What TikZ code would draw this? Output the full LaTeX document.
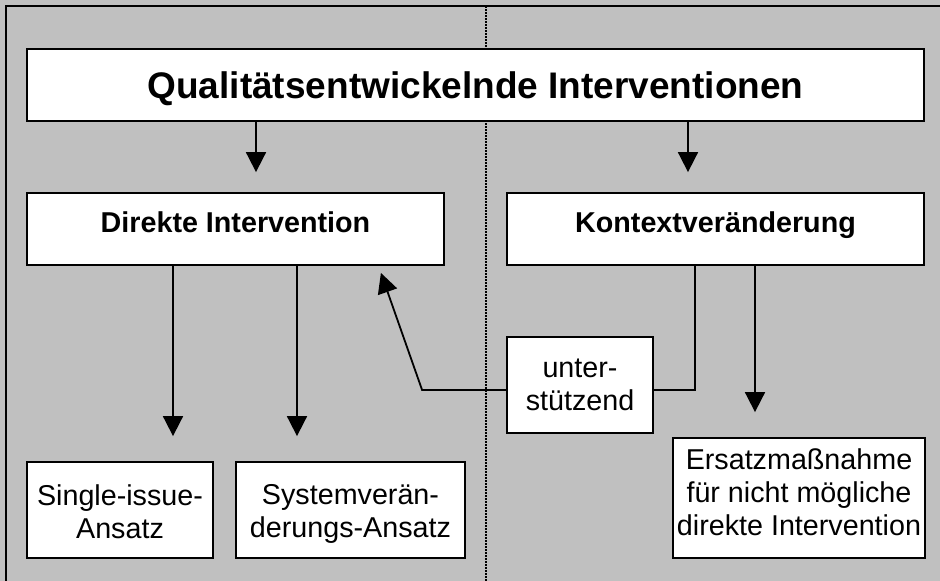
\documentclass[tikz,border=0pt]{standalone}
\usepackage{fontspec}
\setmainfont{Liberation Sans}
\usetikzlibrary{arrows.meta,calc}
\definecolor{panelgray}{HTML}{C0C0C0}
\begin{document}
\begin{tikzpicture}[x=1pt,y=-1pt,
  box/.style={draw=black, line width=1.8pt, fill=white, inner sep=0pt},
  titletxt/.style={font=\fontsize{37}{42}\selectfont\bfseries, inner sep=0pt, anchor=base},
  headtxt/.style={font=\fontsize{28.7}{33}\selectfont\bfseries, inner sep=0pt, anchor=base},
  txt/.style={font=\fontsize{28.7}{33}\selectfont, align=center, inner sep=0pt},
  conn/.style={line width=1.8pt},
  arr/.style={conn, -{Triangle[width=20pt,length=20pt]}},
]
\useasboundingbox (0,0) rectangle (940,581);
% grey panel with its frame on the left and top
\fill[panelgray] (0,0) rectangle (940,581);
\coordinate (frameBL) at (6,581);
\coordinate (frameTL) at (6,6);
\coordinate (frameTR) at (940,6);
\draw[line width=2pt] (frameBL) -- (frameTL) -- (frameTR);
% dotted divider between the two columns
\coordinate (divTop) at (486,6);
\coordinate (divBot) at (486,581);
\draw[line width=1.2pt, dash pattern=on 1.5pt off 1.5pt] (divTop) -- (divBot);

% boxes
\node[box, minimum width=897, minimum height=72] (title) at (475.5,85) {};
\node[titletxt] (titleL) at ([yshift=-13pt]title.center) {Qualitätsentwickelnde Interventionen};

\node[box, minimum width=417, minimum height=72] (direkte) at (235.5,229) {};
\node[headtxt] (direkteL) at ([yshift=-3pt]direkte.center) {Direkte Intervention};

\node[box, minimum width=417, minimum height=72] (kontext) at (715.5,229) {};
\node[headtxt] (kontextL) at ([yshift=-3pt]kontext.center) {Kontextveränderung};

\node[box, minimum width=146, minimum height=96] (unter) at (580,385) {};
\node[txt] (unterL) at (unter.center) {unter-\\stützend};

\node[box, minimum width=186, minimum height=96] (single) at (120,510) {};
\node[txt] (singleL) at ([yshift=-2pt]single.center) {Single-issue-\\Ansatz};

\node[box, minimum width=229, minimum height=96] (system) at (350.5,510) {};
\node[txt] (systemL) at ([yshift=-4pt]system.center) {Systemverän-\\derungs-Ansatz};

\node[box, minimum width=252, minimum height=120] (ersatz) at (799,498) {};
\node[txt] (ersatzL) at ([yshift=6pt]ersatz.center) {Ersatzmaßnahme\\für nicht mögliche\\direkte Intervention};

% connectors
\coordinate (inDir) at ([xshift=20.5pt]direkte.north);
\draw[arr, shorten >=20pt] (inDir |- title.south) -- (inDir);
\coordinate (inKon) at ([xshift=-27.5pt]kontext.north);
\draw[arr, shorten >=20pt] (inKon |- title.south) -- (inKon);

\coordinate (outSingle) at ([xshift=-62.5pt]direkte.south);
\draw[arr, shorten >=25pt] (outSingle) -- (outSingle |- single.north);
\coordinate (outSystem) at ([xshift=61.5pt]direkte.south);
\draw[arr, shorten >=25pt] (outSystem) -- (outSystem |- system.north);

\coordinate (outErsatz) at ([xshift=39.5pt]kontext.south);
\draw[arr, shorten >=25pt] (outErsatz) -- (outErsatz |- ersatz.north);

\coordinate (outUnter) at ([xshift=-20.5pt]kontext.south);
\draw[conn] (outUnter) |- ([yshift=-5pt]unter.east);

\coordinate (bend) at ([xshift=-84pt,yshift=-5pt]unter.west);
\coordinate (backTip) at ([xshift=-64pt,yshift=-7pt]direkte.south east);
\draw[arr] ([yshift=-5pt]unter.west) -- (bend) -- (backTip);
\end{tikzpicture}
\end{document}
